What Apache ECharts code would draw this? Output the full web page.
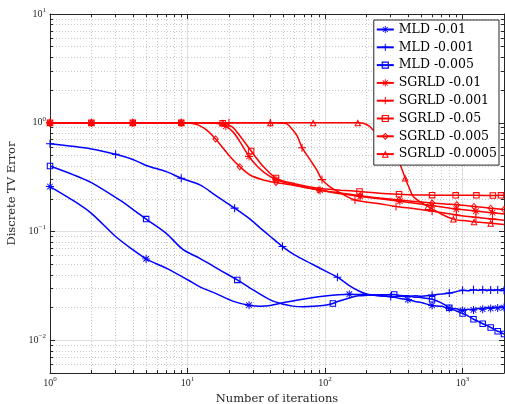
<!DOCTYPE html>
<html><head><meta charset="utf-8">
<script src="https://cdn.jsdelivr.net/npm/echarts@6/dist/echarts.min.js"></script>
<style>html,body{margin:0;padding:0;background:#fff}#c{width:505px;height:404px}</style>
</head><body><div id="c"></div>
<script>
// ---- ticks ----
const xTickValues = [1, 10, 100, 1000];
const xTickExps = ['0', '1', '2', '3'];
const yTickValues = [0.01, 0.1, 1, 10];
const yTickExps = ['\u22122', '\u22121', '0', '1'];
const xMinorTicks = [2,3,4,5,6,7,8,9,20,30,40,50,60,70,80,90,200,300,400,500,600,700,800,900];
const yMinorTicks = [0.006,0.007,0.008,0.009,0.02,0.03,0.04,0.05,0.06,0.07,0.08,0.09,0.2,0.3,0.4,0.5,0.6,0.7,0.8,0.9,2,3,4,5,6,7,8,9];

// ---- series names ----
const seriesNames = ['MLD -0.01','MLD -0.001','MLD -0.005','SGRLD -0.01','SGRLD -0.001','SGRLD -0.05','SGRLD -0.005','SGRLD -0.0005'];

// ---- data [iteration, TV error] ----
const mld_001 = [[1,0.259],[1.5,0.19],[2,0.147],[3,0.09],[4,0.068],[5,0.056],[7,0.046],[10,0.036],[12.3,0.031],[16,0.027],[21.6,0.0228],[28,0.021],[34,0.0206],[40,0.0209],[50,0.0222],[65,0.0236],[80,0.0246],[100,0.0255],[125,0.0262],[150,0.0265],[175,0.0263],[200,0.0264],[250,0.0257],[300,0.0252],[350,0.0242],[400,0.0237],[450,0.0227],[500,0.0222],[600,0.0209],[700,0.0205],[800,0.0196],[900,0.0195],[1000,0.0188],[1100,0.0193],[1200,0.019],[1300,0.0197],[1400,0.0193],[1500,0.02],[1600,0.0196],[1700,0.0202],[1800,0.0198],[1900,0.0203],[2000,0.02]];
const mld_0001 = [[1,0.64],[2,0.575],[3,0.513],[4,0.46],[5,0.405],[7,0.355],[9,0.309],[12.3,0.268],[16,0.215],[22,0.164],[28,0.132],[34,0.107],[40,0.09],[49,0.0727],[60,0.061],[78,0.0512],[100,0.0435],[123,0.038],[150,0.0318],[175,0.0285],[200,0.0266],[250,0.0256],[300,0.0252],[350,0.0254],[400,0.0251],[450,0.0256],[500,0.0254],[600,0.026],[700,0.0266],[800,0.0272],[900,0.028],[1000,0.0288],[1100,0.0285],[1200,0.0291],[1300,0.0287],[1400,0.0292],[1500,0.0286],[1600,0.029],[1700,0.0287],[1800,0.0292],[1900,0.0286],[2000,0.0289]];
const mld_0005 = [[1,0.40],[1.5,0.33],[2,0.281],[3.2,0.195],[4,0.16],[5,0.13],[7,0.096],[9.3,0.068],[12.3,0.0567],[17,0.0446],[23,0.0359],[30,0.029],[40,0.0235],[50,0.0214],[58,0.0206],[70,0.0203],[83,0.0205],[100,0.021],[114,0.0218],[125,0.0228],[150,0.0245],[175,0.0256],[200,0.0259],[250,0.0262],[318,0.0264],[350,0.0258],[400,0.0256],[450,0.0249],[500,0.0247],[600,0.0238],[700,0.0221],[800,0.0199],[900,0.0186],[1000,0.0176],[1100,0.0167],[1200,0.0156],[1300,0.0149],[1400,0.0142],[1500,0.0137],[1600,0.0131],[1700,0.0126],[1800,0.0121],[1900,0.0118],[2000,0.0114]];
const sg_001 = [[1,1],[2,1],[4,1],[9,1],[14,1],[17,0.98],[19,0.93],[21.5,0.82],[24,0.67],[28,0.49],[32,0.40],[36,0.35],[44,0.30],[60,0.268],[92,0.24],[130,0.222],[180,0.21],[250,0.2],[350,0.19],[450,0.182],[600,0.173],[750,0.166],[900,0.161],[1250,0.154],[1650,0.149],[2000,0.145]];
const sg_0001 = [[1,1],[2,1],[4,1],[9,1],[20,1],[40,1],[52,0.985],[56,0.91],[62.5,0.76],[68,0.59],[78,0.455],[87,0.368],[95,0.30],[108,0.259],[130,0.225],[165,0.195],[250,0.18],[328,0.17],[450,0.162],[600,0.154],[900,0.142],[1250,0.135],[1650,0.13],[2000,0.127]];
const sg_005 = [[1,1],[2,1],[4,1],[9,1],[14,1],[18,0.99],[21,0.92],[24,0.76],[29,0.55],[35.6,0.395],[44,0.31],[60,0.275],[89,0.25],[130,0.24],[178,0.233],[250,0.225],[345,0.22],[450,0.217],[600,0.216],[890,0.215],[1260,0.215],[1660,0.214],[1900,0.215],[2000,0.215]];
const sg_0005 = [[1,1],[2,1],[4,1],[9,1],[10.5,0.99],[12,0.95],[13.8,0.855],[16,0.71],[20.4,0.488],[24,0.395],[28.5,0.331],[35.6,0.298],[44,0.282],[60,0.265],[90,0.241],[130,0.226],[180,0.213],[250,0.203],[345,0.195],[450,0.189],[600,0.183],[750,0.179],[907,0.176],[1210,0.17],[1600,0.164],[2000,0.159]];
const sg_00005 = [[1,1],[2,1],[4,1],[9,1],[18,1],[40,1],[82,1],[173,1],[190,0.99],[210,0.93],[225,0.85],[260,0.74],[297,0.64],[340,0.46],[382,0.31],[410,0.25],[438,0.21],[500,0.185],[558,0.17],[700,0.145],[857,0.13],[1000,0.126],[1212,0.123],[1600,0.119],[2000,0.116]];

// ---- marker iterations ----
const mld_001Marks = [1,5,28,150,400,600,800,1000,1200,1400,1600,1800,2000];
const mld_0001Marks = [1,3,9,22,49,123,300,600,800,1000,1200,1400,1600,1800,2000];
const mld_0005Marks = [1,5,23,114,318,600,800,1000,1200,1400,1600,1800,2000];
const sg_001Marks = [1,2,4,9,19,28,44,92,180,350,600,900,1250,1650];
const sg_0001Marks = [1,2,4,9,20,40,68,95,165,328,600,900,1250,1650];
const sg_005Marks = [1,2,4,9,18,29,44,178,345,600,890,1260,1660,1900];
const sg_0005Marks = [1,2,4,9,16,24,44,90,180,345,600,907,1210,1600,2000];
const sg_00005Marks = [1,2,4,9,18,40,82,173,382,558,857,1212,1600];

// ---- marker shapes ----
const SYM_STAR = 'path://M-0.12,-1L0.12,-1L0.12,1L-0.12,1Z M-1,-0.12L1,-0.12L1,0.12L-1,0.12Z M-0.62,-0.78L0.78,0.62L0.62,0.78L-0.78,-0.62Z M0.78,-0.62L-0.62,0.78L-0.78,0.62L0.62,-0.78Z';
const SYM_PLUS = 'path://M-0.13,-1L0.13,-1L0.13,1L-0.13,1Z M-1,-0.13L1,-0.13L1,0.13L-1,0.13Z';
const SYM_SQUARE = 'path://M-1,-1L1,-1L1,1L-1,1Z M-0.68,-0.68L-0.68,0.68L0.68,0.68L0.68,-0.68Z';
const SYM_DIAMOND = 'path://M0,-1L1,0L0,1L-1,0Z M0,-0.62L-0.62,0L0,0.62L0.62,0Z';
const SYM_TRI = 'path://M0,-1L1,1L-1,1Z M0,-0.36L-0.54,0.71L0.54,0.71Z';

const BLUE = '#0000ff', RED = '#ff0000', AX = '#262626';

function mk(name, color, data, marks, symbol, size) {
  return {
    name: name, type: 'line', xAxisIndex: 0, yAxisIndex: 0, data: data,
    symbol: symbol,
    symbolSize: function (v) { return marks.indexOf(v[0]) >= 0 ? size : 0; },
    showSymbol: true, showAllSymbol: true, smooth: 0.3,
    lineStyle: { color: color, width: 1.5 },
    itemStyle: { color: color, borderWidth: 0 },
    emphasis: { disabled: true }, clip: true
  };
}

function near(a, b) { return Math.abs(Math.log10(a) - Math.log10(b)) < 1e-6; }
function fmtX(v) { const i = xTickValues.findIndex(t => near(t, v)); return i < 0 ? '' : '{b|10}{s|' + xTickExps[i] + '}'; }
function fmtY(v) { const i = yTickValues.findIndex(t => near(t, v)); return i < 0 ? '' : '{b|10}{s|' + yTickExps[i] + '}'; }
const rich = {
  b: { fontFamily: 'Liberation Serif', fontSize: 10, color: AX },
  s: { fontFamily: 'Liberation Serif', fontSize: 7, color: AX, padding: [0, 0, 8, 0] }
};

function axis(kind, pos, major, extra) {
  const isX = kind === 'x';
  const base = {
    type: 'log', logBase: 10,
    min: isX ? 1 : 0.005, max: isX ? 2000 : 10,
    position: pos,
    axisLine: { show: major, onZero: false, lineStyle: { color: AX, width: 1 } },
    axisTick: { show: true, inside: true, length: major ? 5 : 3,
      customValues: major ? (isX ? xTickValues : yTickValues) : (isX ? xMinorTicks : yMinorTicks),
      lineStyle: { color: AX, width: 1 } },
    axisLabel: { show: false },
    splitLine: { show: false },
    minorTick: { show: false }, minorSplitLine: { show: false },
    silent: true
  };
  return Object.assign(base, extra || {});
}

const option = {
  animation: false,
  backgroundColor: '#fff',
  grid: { left: 50, right: 1, top: 14, bottom: 31, containLabel: false, outerBoundsMode: 'none' },
  xAxis: [
    axis('x', 'bottom', true, {
      name: 'Number of iterations', nameLocation: 'middle', nameGap: 18,
      nameTextStyle: { fontFamily: 'DejaVu Serif', fontSize: 11.5, color: AX },
      axisLabel: { show: true, customValues: xTickValues, formatter: fmtX, rich: rich, margin: 3 },
      splitLine: { show: true, lineStyle: { color: '#dfdfdf', width: 1 } }
    }),
    axis('x', 'bottom', false, { splitLine: { show: true, lineStyle: { color: '#c8c8c8', width: 1, type: [1, 2] } } }),
    axis('x', 'top', true),
    axis('x', 'top', false)
  ],
  yAxis: [
    axis('y', 'left', true, {
      name: 'Discrete TV Error', nameLocation: 'middle', nameGap: 32,
      nameTextStyle: { fontFamily: 'DejaVu Serif', fontSize: 11.5, color: AX },
      axisLabel: { show: true, customValues: yTickValues, formatter: fmtY, rich: rich, margin: 4 },
      splitLine: { show: true, lineStyle: { color: '#dfdfdf', width: 1 } }
    }),
    axis('y', 'left', false, { splitLine: { show: true, lineStyle: { color: '#c8c8c8', width: 1, type: [1, 2] } } }),
    axis('y', 'right', true),
    axis('y', 'right', false)
  ],
  legend: {
    orient: 'vertical', right: 6, top: 20,
    itemWidth: 17, itemHeight: 9, itemGap: 4.8,
    padding: [3, 2, 4.5, 2],
    borderColor: AX, borderWidth: 1, backgroundColor: '#fff',
    textStyle: { fontFamily: 'DejaVu Serif', fontSize: 12.5, color: '#000', lineHeight: 13 },
    data: seriesNames, selectedMode: false
  },
  series: [
    mk(seriesNames[0], BLUE, mld_001, mld_001Marks, SYM_STAR, 8),
    mk(seriesNames[1], BLUE, mld_0001, mld_0001Marks, SYM_PLUS, 8),
    mk(seriesNames[2], BLUE, mld_0005, mld_0005Marks, SYM_SQUARE, 6.5),
    mk(seriesNames[3], RED, sg_001, sg_001Marks, SYM_STAR, 8),
    mk(seriesNames[4], RED, sg_0001, sg_0001Marks, SYM_PLUS, 8),
    mk(seriesNames[5], RED, sg_005, sg_005Marks, SYM_SQUARE, 6.5),
    mk(seriesNames[6], RED, sg_0005, sg_0005Marks, SYM_DIAMOND, [6.5, 7.5]),
    mk(seriesNames[7], RED, sg_00005, sg_00005Marks, SYM_TRI, 7)
  ]
};

const chart = echarts.init(document.getElementById('c'), null, { renderer: 'canvas' });
chart.setOption(option);
</script>
</body></html>
